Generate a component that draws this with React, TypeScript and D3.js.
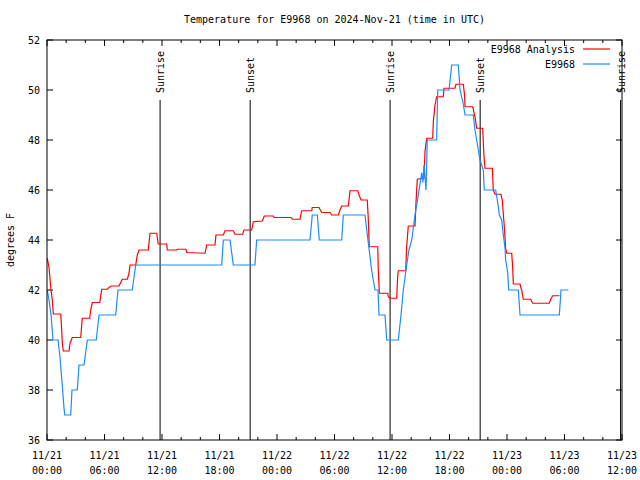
import React from "react";
import * as d3 from "d3";

// Hours since 2024-11-21 00:00 UTC and temperatures (°F)
const analysisHours = [0.03,0.21,0.39,0.55,0.66,1.43,1.49,1.6,1.7,2.3,2.4,2.64,3.52,3.58,3.68,4.46,4.56,4.73,5.5,5.6,5.71,6.29,6.47,6.71,7.51,7.69,7.86,8.38,8.56,8.66,9.26,9.42,9.6,10.57,10.64,10.75,11.45,11.61,12.49,12.55,13.53,13.6,14.5,14.58,16.49,16.66,17.53,17.63,18.4,18.57,19.44,19.62,20.42,20.56,21.36,21.53,22.47,22.67,23.61,23.72,25.46,25.6,26.4,26.58,27.62,27.68,28.38,28.66,29.53,29.71,30.4,30.57,30.75,31.44,31.62,32.42,32.56,32.77,33.42,33.53,33.63,34.51,34.57,34.68,35.55,35.61,35.79,36.49,36.59,36.66,37.43,37.53,37.7,38.4,38.5,38.64,39.34,39.44,39.62,40.25,40.31,40.49,40.66,41.35,41.43,42.57,42.68,43.44,43.57,43.62,44.42,44.66,44.84,45.46,45.6,45.7,46.47,46.57,46.75,47.37,47.51,47.61,47.72,47.86,47.97,48.49,48.59,48.66,49.36,49.46,49.53,49.7,50.47,50.68,52.41,52.56,52.77,53.46];
const analysisTemps = [43.27,42.9,42.1,41.6,41.04,41.04,40.7,39.87,39.56,39.56,39.87,40.1,40.1,40.4,40.87,40.87,41.2,41.5,41.5,41.73,42.03,42.03,42.1,42.16,42.16,42.3,42.43,42.43,42.67,43,43,43.4,43.6,43.6,43.87,44.27,44.27,43.84,43.84,43.6,43.6,43.63,43.63,43.5,43.47,43.8,43.8,44.2,44.2,44.37,44.37,44.23,44.23,44.4,44.4,44.73,44.76,44.96,44.96,44.9,44.9,44.83,44.83,45.17,45.17,45.3,45.3,45.1,45.1,45.0,45.0,45.2,45.36,45.36,45.97,45.97,45.8,45.6,45.6,44.8,43.73,43.73,42.8,41.87,41.87,41.73,41.67,41.67,42.53,42.77,42.77,43.73,44.56,44.56,45.47,46.43,46.47,47.53,48.07,48.07,48.73,49.4,49.73,49.73,50.07,50.07,50.23,50.23,49.8,49.33,49.33,48.93,48.47,48.47,47.33,46.87,46.87,46.0,45.83,45.83,45.6,45.07,44.53,43.67,43.47,43.47,42.93,42.24,42.24,42.07,42.0,41.63,41.63,41.47,41.47,41.63,41.77,41.77];

const obsHours = [0.03,0.21,0.42,0.63,1.15,1.36,1.57,1.77,1.85,2.47,2.61,3.16,3.34,3.86,4.21,5.14,5.43,7.17,7.41,8.9,9.26,18.23,18.4,19.1,19.44,21.7,21.88,27.44,27.68,28.21,28.41,30.75,30.92,33.18,33.46,33.91,34.23,34.54,34.64,35.27,35.45,36.66,36.94,37.18,37.53,37.77,38.06,38.4,38.71,39.1,39.23,39.34,39.55,39.68,40.66,40.77,41.95,42.23,42.92,43.1,43.41,43.62,44.48,44.66,45.01,45.18,45.53,45.63,46.82,47.03,47.2,47.45,47.61,47.79,47.86,48.07,48.18,49.18,49.36,53.46,53.64,54.4];
const obsTemps = [42,41.6,41,40,40,39.3,38.3,37.3,37,37,38,38,39,39,40,40,41,41,42,42,43,43,44,44,43,43,44,44,45,45,44,44,45,45,44.1,42.7,42,42,41,41,40,40,41,42,43,43.6,44,45,45.7,46.7,46.3,47,46,48,48,50,50,51,51,50,49.5,49,49,48.4,47.6,47.2,46.8,46,46,45.5,45,44.8,44.2,43.7,43.2,42.7,42,42,41,41,42,42];

const sunHours = [11.8, 21.2, 35.8, 45.2, 59.85];
const sunLabels = ["Sunrise", "Sunset", "Sunrise", "Sunset", "Sunrise"];

const yTicks = [36, 38, 40, 42, 44, 46, 48, 50, 52];
const seriesNames = ["E9968 Analysis", "E9968"];
const seriesColors = ["#ff0000", "#1a8cff"];
const titleText = "Temperature for E9968 on 2024-Nov-21 (time in UTC)";
const yLabel = "degrees F";

const base = Date.UTC(2024, 10, 21);
const toDate = (h: number) => new Date(base + h * 3600000);

export default function App() {
  const W = 640, H = 480;
  const L = 47, R = 622, T = 40, B = 440;
  const x = d3.scaleUtc().domain([toDate(0), toDate(60)]).range([L, R]);
  const y = d3.scaleLinear().domain([36, 52]).range([B, T]);
  const font = "'DejaVu Sans Mono', monospace";

  const line = d3.line<[number, number]>()
    .x((d) => x(toDate(d[0])))
    .y((d) => y(d[1]));

  const aData: [number, number][] = analysisHours.map((h, i) => [h, analysisTemps[i]]);
  const oData: [number, number][] = obsHours.map((h, i) => [h, obsTemps[i]]);

  const majors = x.ticks(d3.utcHour.every(6)!);
  const minors = x.ticks(d3.utcHour.every(2)!);
  const fmt1 = d3.utcFormat("%m/%d");
  const fmt2 = d3.utcFormat("%H:%M");

  return (
    <svg width={W} height={H} style={{ position: "absolute", left: 0, top: 0, background: "#fff" }}
      fontFamily={font} fontSize={10}>
      <rect x={0} y={0} width={W} height={H} fill="#fff" />
      <text x={(L + R) / 2} y={23} textAnchor="middle">{titleText}</text>
      <text transform={`translate(14,${(T + B) / 2}) rotate(-90)`} textAnchor="middle">{yLabel}</text>

      {/* y ticks */}
      {yTicks.map((t) => (
        <g key={"y" + t}>
          <line x1={L} x2={L + 6} y1={y(t)} y2={y(t)} stroke="#000" />
          <line x1={R - 6} x2={R} y1={y(t)} y2={y(t)} stroke="#000" />
          <text x={40} y={y(t)} dy="0.35em" textAnchor="end">{t}</text>
        </g>
      ))}

      {/* x ticks */}
      {minors.map((d, i) => {
        const major = d.getUTCHours() % 6 === 0;
        const len = major ? 6 : 3;
        const xx = x(d);
        return (
          <g key={"m" + i}>
            <line x1={xx} x2={xx} y1={B} y2={B - len} stroke="#000" />
            <line x1={xx} x2={xx} y1={T} y2={T + len} stroke="#000" />
          </g>
        );
      })}
      {majors.map((d, i) => (
        <g key={"x" + i}>
          <text x={x(d)} y={459} textAnchor="middle">{fmt1(d)}</text>
          <text x={x(d)} y={474} textAnchor="middle">{fmt2(d)}</text>
        </g>
      ))}

      {/* sun lines */}
      {sunHours.map((h, i) => {
        const xx = x(toDate(h));
        return (
          <g key={"s" + i}>
            <line x1={xx} x2={xx} y1={100} y2={B} stroke="#000" />
            <text transform={`translate(${xx + 4},93) rotate(-90)`} textAnchor="start">{sunLabels[i]}</text>
          </g>
        );
      })}

      <path d={line(aData) || ""} fill="none" stroke={seriesColors[0]} strokeWidth={1.2} />
      <path d={line(oData) || ""} fill="none" stroke={seriesColors[1]} strokeWidth={1.2} />

      {/* legend */}
      {seriesNames.map((n, i) => (
        <g key={"l" + i}>
          <text x={575} y={49 + i * 15} dy="0.35em" textAnchor="end">{n}</text>
          <line x1={583} x2={610} y1={49 + i * 15} y2={49 + i * 15} stroke={seriesColors[i]} strokeWidth={1.2} />
        </g>
      ))}

      <rect x={L} y={T} width={R - L} height={B - T} fill="none" stroke="#000" />
    </svg>
  );
}
